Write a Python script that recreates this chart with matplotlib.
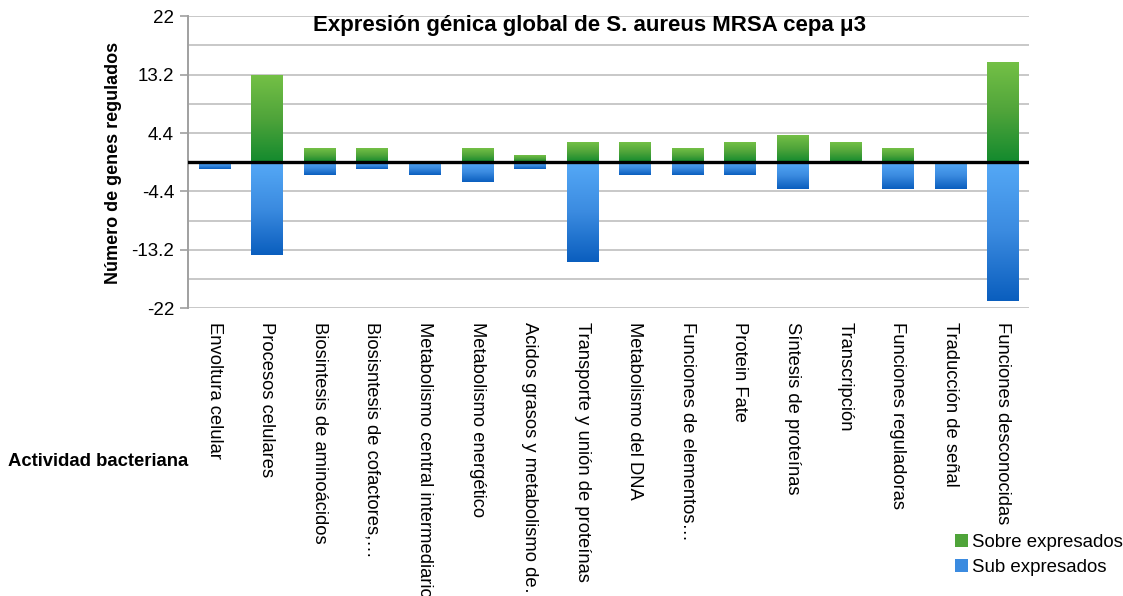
import numpy as np
import matplotlib

matplotlib.use("Agg")
import matplotlib.pyplot as plt
from matplotlib.colors import LinearSegmentedColormap
from matplotlib.patches import Patch

plt.rcParams["font.family"] = ["Liberation Sans", "DejaVu Sans"]

categories = [
    "Envoltura celular",
    "Procesos celulares",
    "Biosintesis de aminoácidos",
    "Biosisntesis de cofactores,…",
    "Metabolismo central intermediario",
    "Metabolismo energético",
    "Acidos grasos y metabolismo de…",
    "Transporte y unión de proteínas",
    "Metabolismo del DNA",
    "Funciones de elementos…",
    "Protein Fate",
    "Síntesis de proteínas",
    "Transcripción",
    "Funciones reguladoras",
    "Traducción de señal",
    "Funciones desconocidas",
]
sobre = [0, 13, 2, 2, 0, 2, 1, 3, 3, 2, 3, 4, 3, 2, 0, 15]
sub = [-1, -14, -2, -1, -2, -3, -1, -15, -2, -2, -2, -4, 0, -4, -4, -21]

y_ticks = [22, 13.2, 4.4, -4.4, -13.2, -22]
y_tick_labels = ["22", "13.2", "4.4", "-4.4", "-13.2", "-22"]
y_minor = [17.6, 8.8, 0, -8.8, -17.6]

green_cmap = LinearSegmentedColormap.from_list("g", ["#138A2E", "#4FA43A", "#74C046"])
blue_cmap = LinearSegmentedColormap.from_list("b", ["#0A5EBE", "#3B8BE0", "#55A9F7"])

fig = plt.figure(figsize=(11.23, 5.96), dpi=100)
ax = fig.add_axes([0.1674, 0.4832, 0.7489, 0.4894])

x = np.arange(len(categories))
bars_pos = ax.bar(x, sobre, width=0.59, color="none", zorder=3)
bars_neg = ax.bar(x, sub, width=0.59, color="none", zorder=3)

grad = np.linspace(0, 1, 256).reshape(-1, 1)


def paint(bars, cmap):
    for b in bars:
        h = b.get_height()
        if h == 0:
            continue
        x0, x1 = b.get_x(), b.get_x() + b.get_width()
        y0, y1 = b.get_y(), b.get_y() + h
        # light at the top, dark at the bottom
        ax.imshow(grad, cmap=cmap, origin="lower", aspect="auto",
                  extent=[x0, x1, min(y0, y1), max(y0, y1)], zorder=3,
                  interpolation="bilinear")


paint(bars_pos, green_cmap)
paint(bars_neg, blue_cmap)

ax.set_xlim(-0.5, len(categories) - 0.5)
ax.set_ylim(-22, 22)
ax.set_yticks(y_ticks)
ax.set_yticklabels(y_tick_labels, fontsize=13.5)
ax.set_yticks(y_minor, minor=True)
ax.tick_params(axis="y", which="major", length=6, width=1.2, color="#A0A0A0", pad=4)
ax.tick_params(axis="y", which="minor", length=0)
ax.grid(axis="y", which="both", color="#C8C8C8", linewidth=1.4, zorder=0)
ax.set_axisbelow(True)

ax.set_xticks(x)
ax.set_xticklabels(categories, rotation=-90, fontsize=13.2, va="top", ha="center")
ax.tick_params(axis="x", length=0, pad=10)

for side in ("top", "right", "bottom"):
    ax.spines[side].set_visible(False)
ax.spines["left"].set_color("#A0A0A0")
ax.spines["left"].set_linewidth(1.4)

ax.axhline(0, color="black", linewidth=2.4, zorder=4)

fig.text(0.5245, 1 - 25 / 596, "Expresión génica global de S. aureus MRSA cepa μ3",
         ha="center", va="center", fontsize=16, fontweight="bold")
fig.text(113 / 1123, 1 - 163 / 596, "Número de genes regulados", rotation=90,
         ha="center", va="center", fontsize=13, fontweight="bold")
fig.text(8 / 1123, 1 - 461 / 596, "Actividad bacteriana", ha="left", va="center",
         fontsize=13.3, fontweight="bold")

handles = [Patch(facecolor="#4FA43A", edgecolor="none", label="Sobre expresados"),
           Patch(facecolor="#3B8BE0", edgecolor="none", label="Sub expresados")]
fig.legend(handles=handles, loc="upper left", bbox_to_anchor=(955 / 1123, 1 - 534 / 596),
           frameon=False, fontsize=13.4, handlelength=0.7, handleheight=0.7,
           handletextpad=0.2, labelspacing=0.45, borderaxespad=0, borderpad=0)

fig.savefig("out.png", dpi=100)
